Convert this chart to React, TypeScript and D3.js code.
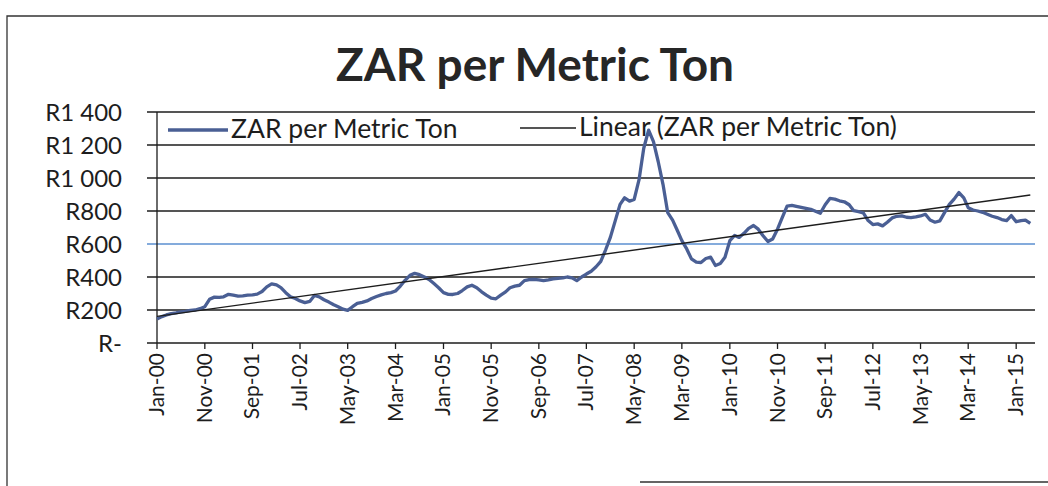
import { useEffect, useRef } from 'react';
import * as d3 from 'd3';

// monthly ZAR per metric ton, Jan-00 .. Apr-15
const firstMonth = new Date(2000, 0, 1);
const zarPerTon = [
  145, 160, 170, 178, 182, 188, 192, 198, 200, 208, 220, 265,
  278, 276, 280, 295, 290, 284, 286, 290, 292, 296, 312, 340,
  358, 352, 336, 305, 280, 270, 255, 245, 252, 288, 280, 262,
  248, 232, 220, 205, 198, 220, 240, 246, 255, 270, 282, 292,
  300, 305, 315, 345, 380, 410, 422, 414, 400, 385, 360, 335,
  305, 295, 294, 300, 318, 340, 350, 335, 310, 290, 272, 268,
  290, 310, 335, 345, 350, 378, 384, 386, 382, 378, 382, 388,
  392, 395, 400, 395, 378, 400, 418, 435, 462, 495, 565, 640,
  740, 840, 880, 860, 870, 990, 1180, 1290, 1220, 1100, 960, 790,
  745, 680, 620, 570, 510, 490, 488, 512, 520, 470, 482, 520,
  620, 652, 640, 665, 695, 712, 690, 650, 615, 630, 690, 760,
  830, 834, 828, 822, 816, 810, 798, 786, 838, 876, 872, 862,
  856, 838, 802, 796, 788, 742, 718, 722, 710, 732, 758, 768,
  770, 762, 760, 764, 770, 780, 745, 732, 740, 790, 840, 872,
  912, 880, 820, 806, 800, 792, 780, 768, 760, 748, 742, 772,
  735, 742, 745, 725,
];

const xTickLabels = [
  'Jan-00', 'Nov-00', 'Sep-01', 'Jul-02', 'May-03', 'Mar-04', 'Jan-05',
  'Nov-05', 'Sep-06', 'Jul-07', 'May-08', 'Mar-09', 'Jan-10', 'Nov-10',
  'Sep-11', 'Jul-12', 'May-13', 'Mar-14', 'Jan-15',
];
const yTicks = [0, 200, 400, 600, 800, 1000, 1200, 1400];
const yTickLabels = ['R-', 'R200', 'R400', 'R600', 'R800', 'R1 000', 'R1 200', 'R1 400'];

const seriesName = 'ZAR per Metric Ton';
const trendName = 'Linear (ZAR per Metric Ton)';

export default function App() {
  const svgRef = useRef<SVGSVGElement>(null);

  useEffect(() => {
    if (!svgRef.current) return;
    const svg = d3.select(svgRef.current);
    svg.selectAll('*').remove();

    const width = 1048;
    const height = 486;
    const plot = { left: 157, right: 1035, top: 112, bottom: 343 };
    const font = 'Lato, Calibri, sans-serif';
    const ink = '#1d1d1d';
    const lineColor = '#4a5f94';

    const data = zarPerTon.map((v, i) => ({ date: d3.timeMonth.offset(firstMonth, i), value: v, i }));
    const parse = d3.timeParse('%b-%y');

    const x = d3.scaleTime()
      .domain([firstMonth, d3.timeMonth.offset(firstMonth, zarPerTon.length)])
      .range([plot.left, plot.right]);
    const y = d3.scaleLinear().domain([0, 1400]).range([plot.bottom, plot.top]);

    svg.append('rect').attr('width', width).attr('height', height).attr('fill', '#fff');

    // scanned frame
    svg.append('path')
      .attr('d', `M${width},16H7V${height}M640,482H${width}`)
      .attr('fill', 'none')
      .attr('stroke', '#333')
      .attr('stroke-width', 1.3);

    svg.append('text')
      .attr('x', 535)
      .attr('y', 81)
      .attr('text-anchor', 'middle')
      .attr('font-family', font)
      .attr('font-weight', 700)
      .attr('font-size', 46)
      .attr('fill', '#262626')
      .text('ZAR per Metric Ton');

    // gridlines + y axis
    const yAxis = svg.append('g');
    yTicks.forEach((t, k) => {
      yAxis.append('line')
        .attr('x1', plot.left - 10)
        .attr('x2', plot.right)
        .attr('y1', y(t))
        .attr('y2', y(t))
        .attr('stroke', t === 600 ? '#5b8fd0' : ink)
        .attr('stroke-width', t === 0 ? 1.6 : 1.3);
      yAxis.append('text')
        .attr('x', 122)
        .attr('y', y(t))
        .attr('dy', '0.36em')
        .attr('text-anchor', 'end')
        .attr('font-family', font)
        .attr('font-size', 24)
        .attr('fill', ink)
        .text(yTickLabels[k]);
    });
    yAxis.append('line')
      .attr('x1', plot.left).attr('x2', plot.left)
      .attr('y1', plot.top).attr('y2', plot.bottom)
      .attr('stroke', ink).attr('stroke-width', 1.3);

    // x axis ticks and rotated labels
    const xAxis = svg.append('g');
    xTickLabels.forEach(lbl => {
      const d = parse(lbl) as Date;
      const px = x(d);
      xAxis.append('line')
        .attr('x1', px).attr('x2', px)
        .attr('y1', plot.bottom).attr('y2', plot.bottom + 6)
        .attr('stroke', ink).attr('stroke-width', 1.3);
      xAxis.append('text')
        .attr('transform', `translate(${px + 7},${plot.bottom + 10}) rotate(-90)`)
        .attr('text-anchor', 'end')
        .attr('font-family', font)
        .attr('font-size', 21)
        .attr('fill', ink)
        .text(lbl);
    });

    // least squares trend, as Excel does it (x = month index)
    const n = data.length;
    const mx = d3.mean(data, d => d.i) ?? 0;
    const my = d3.mean(data, d => d.value) ?? 0;
    const sxy = d3.sum(data, d => (d.i - mx) * (d.value - my));
    const sxx = d3.sum(data, d => (d.i - mx) ** 2);
    const slope = sxy / sxx;
    const icpt = my - slope * mx;
    const trend = [data[0], data[n - 1]].map(d => ({ date: d.date, value: icpt + slope * d.i }));

    const line = d3.line<{ date: Date; value: number }>()
      .x(d => x(d.date))
      .y(d => y(d.value));

    svg.append('path')
      .datum(data)
      .attr('fill', 'none')
      .attr('stroke', lineColor)
      .attr('stroke-width', 3.3)
      .attr('stroke-linejoin', 'round')
      .attr('d', line);

    svg.append('path')
      .datum(trend)
      .attr('fill', 'none')
      .attr('stroke', ink)
      .attr('stroke-width', 1.4)
      .attr('d', line);

    // legend
    const legend = svg.append('g').attr('font-family', font).attr('font-size', 26.5).attr('fill', ink);
    legend.append('line')
      .attr('x1', 168).attr('x2', 228).attr('y1', 130).attr('y2', 130)
      .attr('stroke', lineColor).attr('stroke-width', 3.3);
    legend.append('text').attr('x', 231).attr('y', 138).text(seriesName);
    legend.append('line')
      .attr('x1', 520).attr('x2', 576).attr('y1', 128).attr('y2', 128)
      .attr('stroke', ink).attr('stroke-width', 1.4);
    legend.append('text').attr('x', 579).attr('y', 136).text(trendName);
  }, []);

  return (
    <svg
      ref={svgRef}
      width={1048}
      height={486}
      style={{ position: 'absolute', left: 0, top: 0, display: 'block' }}
    />
  );
}
